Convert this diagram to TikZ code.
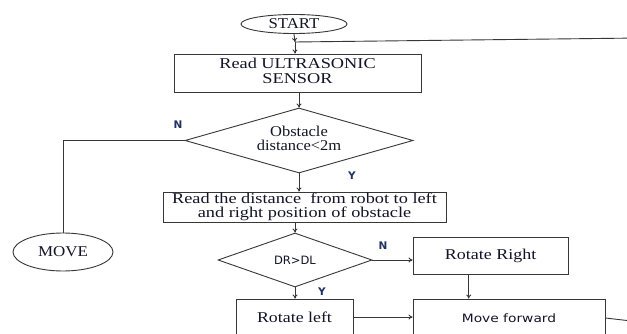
\documentclass[tikz,border=0pt]{standalone}
\usepackage{fontspec}
\setmainfont{Liberation Serif}
\newfontfamily\sansf{DejaVu Sans}
\usetikzlibrary{shapes.geometric,arrows.meta,calc}
\definecolor{linec}{RGB}{55,55,55}
\definecolor{txtc}{RGB}{20,20,40}
\definecolor{lblc}{RGB}{30,50,100}
\newcommand\sx[2]{\scalebox{#1}[1]{#2}}
\tikzset{
  conn/.style={draw=linec, line width=0.9pt},
  arr/.style={conn, -{To[length=4pt,width=5pt]}},
  boxnode/.style={draw=linec, line width=0.9pt, rectangle, inner sep=0pt, text=txtc, font=\fontsize{15pt}{15pt}\selectfont},
  ovalnode/.style={draw=linec, line width=0.9pt, ellipse, inner sep=0pt, text=txtc, font=\fontsize{15pt}{15pt}\selectfont},
  decnode/.style={draw=linec, line width=0.9pt, diamond, inner sep=0pt, text=txtc},
  yn/.style={text=lblc, font=\sansf\bfseries\fontsize{10.5pt}{10.5pt}\selectfont, inner sep=0pt}
}
\begin{document}
\begin{tikzpicture}[x=1pt,y=-1pt]
\useasboundingbox[fill=white] (0,0) rectangle (627,334);

\node[ovalnode, minimum width=106pt, minimum height=19pt] (start) at (294,24) {\sx{1.12}{START}};
\coordinate (jct) at (295,42);
\node[boxnode, minimum width=247pt, minimum height=38pt] (read1) at (297.5,73)
  {\sx{1.22}{\begin{tabular}{@{}c@{}}Read ULTRASONIC\\SENSOR\end{tabular}}};
\node[decnode, aspect=3.5, minimum width=228pt, minimum height=65pt,
  font=\fontsize{15pt}{14.5pt}\selectfont] (dia1) at (299,140.5)
  {\sx{1.1}{\begin{tabular}{@{}c@{}}Obstacle\\distance<2m\end{tabular}}};
\node[boxnode, minimum width=283pt, minimum height=30pt, font=\fontsize{15pt}{13pt}\selectfont] (read2) at (304.5,207)
  {\sx{1.22}{\begin{tabular}{@{}c@{}}Read the distance~ from robot to left\\and right position of obstacle\end{tabular}}};
\node[decnode, aspect=2.85, minimum width=154pt, minimum height=54pt,
  font=\sansf\fontsize{11.5pt}{11.5pt}\selectfont] (dia2) at (295,260) {DR>DL};
\node[boxnode, minimum width=155pt, minimum height=37pt] (rright) at (490.5,255.5) {\sx{1.2}{Rotate Right}};
\node[boxnode, minimum width=117pt, minimum height=36pt] (rleft) at (294.5,317) {\sx{1.19}{Rotate left}};
\node[boxnode, minimum width=192pt, minimum height=38pt, font=\sansf\fontsize{11.5pt}{11.5pt}\selectfont] (mfwd) at (509,318) {\sx{1.2}{Move forward}};
\node[ovalnode, minimum width=100pt, minimum height=38pt] (move) at (63,252) {\sx{1.13}{MOVE}};

\coordinate (r1) at (640,322);
\coordinate (r2) at (640,38);

\draw[arr] (start.south) -- (jct);
\draw[arr] (jct) -- (read1.north -| jct);
\draw[conn] (mfwd.east) -- (r1) -- (r2) -- (jct);
\draw[arr] (read1.south -| dia1.north) -- (dia1.north);
\draw[arr] (dia1.south) -- (dia1.south |- read2.north);
\draw[conn] (dia1.west) -| (move.north);
\draw[arr] (read2.south -| dia2.north) -- (dia2.north);
\draw[arr] (dia2.east) -- (dia2.east -| rright.west);
\draw[arr] (dia2.south) -- (dia2.south |- rleft.north);
\coordinate (rrs) at ($(rright.south west)!0.36!(rright.south east)$);
\draw[arr] (rrs) -- (rrs |- mfwd.north);
\draw[arr] (rleft.east) -- (rleft.east -| mfwd.west);

\node[yn] (n1) at (178,125) {N};
\node[yn] (y1) at (352,176) {Y};
\node[yn] (n2) at (383,246) {N};
\node[yn] (y2) at (322,292) {Y};
\end{tikzpicture}
\end{document}
